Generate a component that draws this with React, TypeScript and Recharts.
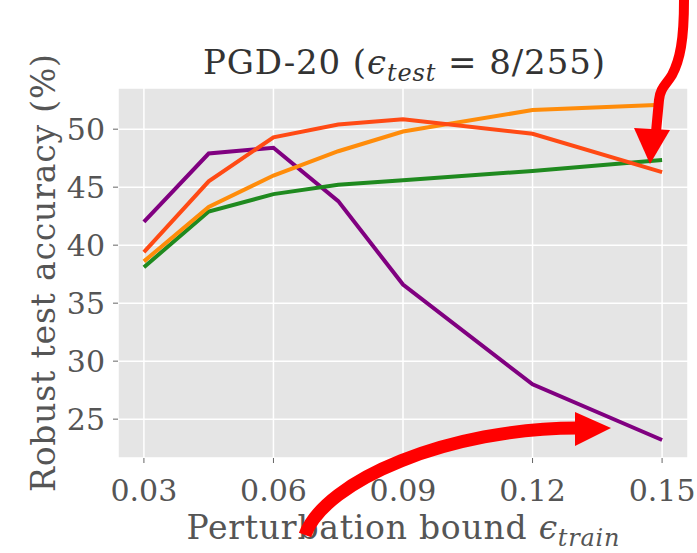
import React from "react";
import { LineChart, Line, XAxis, YAxis, CartesianGrid } from "recharts";

const epsTrain = [0.03, 0.045, 0.06, 0.075, 0.09, 0.12, 0.15];
const purpleAcc = [42.0, 47.9, 48.4, 43.8, 36.6, 28.0, 23.2];
const redAcc = [39.4, 45.5, 49.3, 50.4, 50.85, 49.6, 46.3];
const orangeAcc = [38.6, 43.3, 46.0, 48.1, 49.8, 51.65, 52.1];
const greenAcc = [38.1, 42.9, 44.4, 45.2, 45.6, 46.4, 47.35];
const xTicks = [0.03, 0.06, 0.09, 0.12, 0.15];
const yTicks = [25, 30, 35, 40, 45, 50];

const data = epsTrain.map((x, i) => ({
  x,
  purple: purpleAcc[i],
  red: redAcc[i],
  orange: orangeAcc[i],
  green: greenAcc[i],
}));

const FONT = "'DejaVu Serif', serif";
const W = 697;
const H = 553;

export default function App() {
  return (
    <div style={{ position: "absolute", left: 0, top: 0, width: W, height: H, background: "#fff", fontFamily: FONT }}>
      <LineChart
        width={W}
        height={H}
        data={data}
        margin={{ top: 88, right: 9, bottom: 45, left: 58 }}
        style={{ fontFamily: FONT }}
      >
        <CartesianGrid fill="#e5e5e5" stroke="#ffffff" strokeWidth={1.5} />
        <XAxis
          dataKey="x"
          type="number"
          domain={[0.024, 0.156]}
          ticks={xTicks}
          tickFormatter={(v: number) => v.toFixed(2)}
          axisLine={false}
          tickLine={{ stroke: "#666", strokeWidth: 1 }}
          tickSize={5}
          tickMargin={17}
          height={50}
          interval={0}
          tick={{ fill: "#555", fontSize: 30, style: { fontFamily: FONT } }}
        />
        <YAxis
          type="number"
          domain={[21.65, 53.55]}
          ticks={yTicks}
          axisLine={false}
          tickLine={{ stroke: "#666", strokeWidth: 1 }}
          tickSize={5}
          tickMargin={8}
          width={60}
          interval={0}
          tick={{ fill: "#555", fontSize: 30, style: { fontFamily: FONT } }}
        />
        <Line dataKey="purple" stroke="#800080" strokeWidth={4} dot={false} isAnimationActive={false} />
        <Line dataKey="green" stroke="#1f8a1f" strokeWidth={4} dot={false} isAnimationActive={false} />
        <Line dataKey="orange" stroke="#ff8c0a" strokeWidth={4} dot={false} isAnimationActive={false} />
        <Line dataKey="red" stroke="#ff4a14" strokeWidth={4} dot={false} isAnimationActive={false} />
      </LineChart>
      <svg
        width={W}
        height={H}
        style={{ position: "absolute", left: 0, top: 0, pointerEvents: "none", fontFamily: FONT }}
      >
        <text
          x={404}
          y={74}
          textAnchor="middle"
          style={{ fontFamily: FONT }}
          fontSize={34}
          fill="#333"
          textLength={402}
          lengthAdjust="spacing"
        >
          PGD-20 (<tspan fontStyle="italic">ϵ</tspan>
          <tspan fontStyle="italic" fontSize={24} dy={7}>test</tspan>
          <tspan dy={-7}> = 8/255)</tspan>
        </text>
        <text
          x={403}
          y={539}
          textAnchor="middle"
          style={{ fontFamily: FONT }}
          fontSize={33}
          fill="#555"
          textLength={433}
          lengthAdjust="spacing"
        >
          Perturbation bound <tspan fontStyle="italic">ϵ</tspan>
          <tspan fontStyle="italic" fontSize={24} dy={7}>train</tspan>
        </text>
        <text
          transform="translate(55,273) rotate(-90)"
          x={0}
          y={0}
          textAnchor="middle"
          style={{ fontFamily: FONT }}
          fontSize={33}
          fill="#555"
          textLength={438}
          lengthAdjust="spacing"
        >
          Robust test accuracy (%)
        </text>
        <path
          d="M684,0 C684,40 680,60 672,75 C666,85 660,88 659,100 L656,132"
          fill="none"
          stroke="#ff0000"
          strokeWidth={10}
        />
        <polygon points="634,128 670,130 650,164" fill="#ff0000" />
        <path
          d="M305,535 C325,480 450,428 578,428"
          fill="none"
          stroke="#ff0000"
          strokeWidth={13}
        />
        <polygon points="575,412 575,446 611,428" fill="#ff0000" />
      </svg>
    </div>
  );
}
